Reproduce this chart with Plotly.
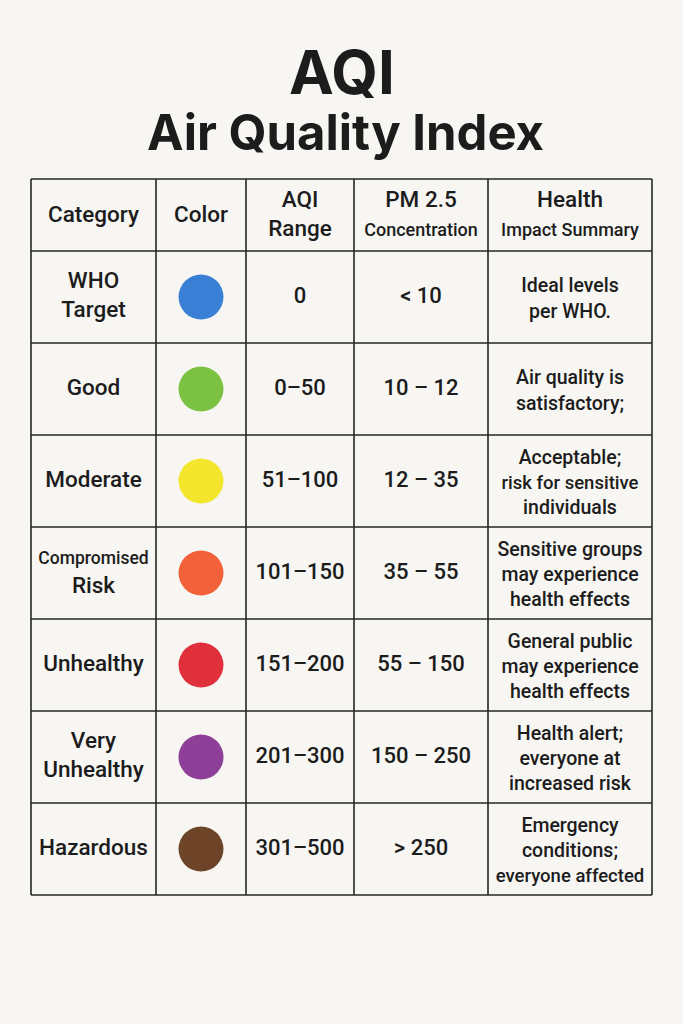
import plotly.graph_objects as go

# Table content
categories = ["WHO<br>Target", "Good", "Moderate",
              "<span style='font-size:17.5px'>Compromised</span><br>Risk",
              "Unhealthy", "Very<br>Unhealthy", "Hazardous"]
dot_colors = ["#3a7fd6", "#7cc242", "#f3e62c", "#f2613a", "#e0303b", "#8e3f97", "#6e4428"]
aqi_ranges = ["0", "0–50", "51–100", "101–150", "151–200", "201–300", "301–500"]
pm25 = ["< 10", "10 – 12", "12 – 35", "35 – 55", "55 – 150", "150 – 250", "> 250"]
health = ["Ideal levels<br>per WHO.",
          "Air quality is<br>satisfactory;",
          "Acceptable;<br><span style='font-size:18.5px'>risk for sensitive</span><br>individuals",
          "Sensitive groups<br>may experience<br>health effects",
          "General public<br>may experience<br>health effects",
          "Health alert;<br>everyone at<br>increased risk",
          "Emergency<br>conditions;<br><span style='font-size:18.5px'>everyone affected</span>"]
headers = ["Category", "Color", "AQI<br>Range",
           "PM 2.5<br><span style='font-size:18px'>Concentration</span>",
           "Health<br><span style='font-size:18px'>Impact Summary</span>"]

# layout in page pixels
col_edges = [31, 156, 246, 354, 488, 652]
top, header_h, row_h = 179, 72, 92
row_edges = [top, top + header_h] + [top + header_h + row_h * (i + 1) for i in range(len(categories))]

col_mid = [(a + b) / 2 for a, b in zip(col_edges[:-1], col_edges[1:])]
row_mid = [(a + b) / 2 for a, b in zip(row_edges[1:-1], row_edges[2:])]

ink = "#1c1c1c"
body_font = "Roboto"

fig = go.Figure()

# header text
fig.add_trace(go.Scatter(
    x=col_mid, y=[(row_edges[0] + row_edges[1]) / 2 + 1] * len(headers),
    mode="text", text=headers,
    textfont=dict(family=body_font, size=22.5, color=ink, weight=500),
    hoverinfo="skip"))

# body columns
for xi, vals, size in [(0, categories, 22.5), (2, aqi_ranges, 22), (3, pm25, 22), (4, health, 19.5)]:
    fig.add_trace(go.Scatter(
        x=[col_mid[xi]] * len(vals), y=[m + (3 if xi == 4 else 0) for m in row_mid],
        mode="text", text=vals,
        textfont=dict(family=body_font, size=size, color=ink, weight=500),
        hoverinfo="skip"))

# colour dots
fig.add_trace(go.Scatter(
    x=[col_mid[1]] * len(dot_colors), y=row_mid,
    mode="markers",
    marker=dict(size=45, color=dot_colors, line=dict(width=0)),
    hoverinfo="skip"))

# grid lines
for xe in col_edges:
    fig.add_shape(type="line", x0=xe, x1=xe, y0=row_edges[0], y1=row_edges[-1],
                  line=dict(color="#262626", width=1.6))
for ye in row_edges:
    fig.add_shape(type="line", x0=col_edges[0], x1=col_edges[-1], y0=ye, y1=ye,
                  line=dict(color="#262626", width=1.6))

# titles
fig.add_annotation(x=341.5, y=72, text="<b>AQI</b>", showarrow=False,
                   font=dict(family="Inter", size=60, color=ink))
fig.add_annotation(x=345, y=132, text="<b>Air Quality Index</b>", showarrow=False,
                   font=dict(family="Inter", size=49, color=ink))

fig.update_layout(
    width=683, height=1024,
    margin=dict(l=0, r=0, t=0, b=0),
    paper_bgcolor="#f7f6f3", plot_bgcolor="#f7f6f3",
    showlegend=False,
    xaxis=dict(range=[0, 683], visible=False, fixedrange=True),
    yaxis=dict(range=[1024, 0], visible=False, fixedrange=True),
)

fig.write_html("out.html", config={"displayModeBar": False},
               post_script="document.body.style.margin='0';document.body.style.background='#f7f6f3';")
